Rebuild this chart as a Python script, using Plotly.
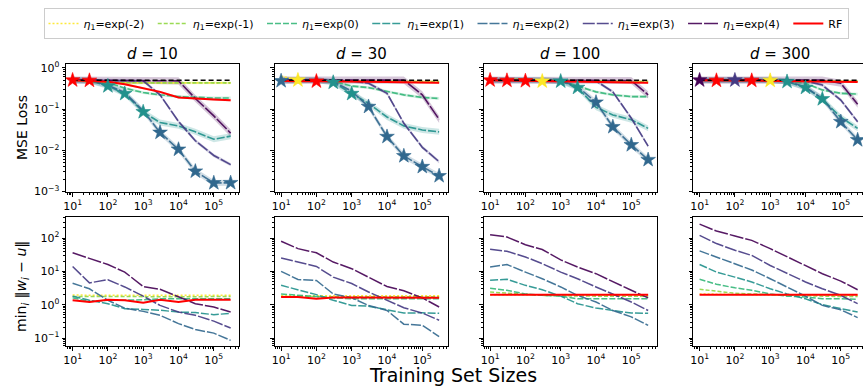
import plotly.graph_objects as go

# ---------------- data ----------------
sizes = [10, 30, 100, 300, 1000, 3000, 10000, 30000, 100000, 300000]
dims = [10, 30, 100, 300]
series_names = ["<i>η</i><sub>1</sub>=exp(-2)", "<i>η</i><sub>1</sub>=exp(-1)",
                "<i>η</i><sub>1</sub>=exp(0)", "<i>η</i><sub>1</sub>=exp(1)",
                "<i>η</i><sub>1</sub>=exp(2)", "<i>η</i><sub>1</sub>=exp(3)",
                "<i>η</i><sub>1</sub>=exp(4)", "RF"]

# MSE loss (top row), order: exp(-2) .. exp(4), RF
mse_d10 = [
    [0.52, 0.45, 0.43, 0.43, 0.43, 0.43, 0.43, 0.43, 0.43, 0.43],
    [0.50, 0.45, 0.44, 0.43, 0.43, 0.43, 0.43, 0.43, 0.43, 0.43],
    [0.50, 0.49, 0.44, 0.32, 0.25, 0.22, 0.20, 0.19, 0.185, 0.185],
    [0.50, 0.49, 0.36, 0.235, 0.085, 0.047, 0.039, 0.028, 0.0185, 0.022],
    [0.50, 0.49, 0.38, 0.25, 0.09, 0.027, 0.0105, 0.0031, 0.00162, 0.00163],
    [0.50, 0.50, 0.50, 0.50, 0.48, 0.22, 0.05, 0.017, 0.0075, 0.0045],
    [0.50, 0.50, 0.50, 0.50, 0.50, 0.50, 0.48, 0.18, 0.068, 0.026],
    [0.50, 0.49, 0.46, 0.40, 0.32, 0.26, 0.19, 0.178, 0.17, 0.162],
]
mse_d30 = [
    [0.62, 0.50, 0.48, 0.47, 0.47, 0.47, 0.47, 0.46, 0.46, 0.46],
    [0.52, 0.49, 0.48, 0.47, 0.47, 0.47, 0.47, 0.46, 0.46, 0.46],
    [0.50, 0.50, 0.50, 0.47, 0.36, 0.33, 0.27, 0.22, 0.19, 0.18],
    [0.50, 0.50, 0.50, 0.44, 0.235, 0.137, 0.064, 0.039, 0.031, 0.028],
    [0.48, 0.50, 0.50, 0.46, 0.27, 0.114, 0.0214, 0.0073, 0.004, 0.0024],
    [0.50, 0.50, 0.50, 0.50, 0.48, 0.42, 0.24, 0.045, 0.0118, 0.0053],
    [0.50, 0.50, 0.50, 0.50, 0.50, 0.50, 0.50, 0.50, 0.22, 0.056],
    [0.48, 0.47, 0.47, 0.47, 0.46, 0.46, 0.45, 0.44, 0.43, 0.43],
]
mse_d100 = [
    [0.50, 0.52, 0.52, 0.47, 0.49, 0.48, 0.47, 0.46, 0.46, 0.46],
    [0.50, 0.52, 0.53, 0.50, 0.49, 0.48, 0.47, 0.46, 0.46, 0.46],
    [0.50, 0.50, 0.50, 0.50, 0.48, 0.36, 0.26, 0.22, 0.20, 0.20],
    [0.50, 0.50, 0.50, 0.50, 0.47, 0.33, 0.11, 0.072, 0.055, 0.034],
    [0.50, 0.50, 0.50, 0.50, 0.48, 0.35, 0.145, 0.037, 0.0135, 0.0059],
    [0.50, 0.50, 0.50, 0.50, 0.50, 0.50, 0.48, 0.26, 0.06, 0.0126],
    [0.50, 0.50, 0.50, 0.50, 0.50, 0.50, 0.50, 0.50, 0.49, 0.22],
    [0.50, 0.49, 0.48, 0.48, 0.47, 0.46, 0.45, 0.44, 0.43, 0.43],
]
mse_d300 = [
    [0.50, 0.50, 0.50, 0.50, 0.49, 0.49, 0.48, 0.47, 0.47, 0.47],
    [0.50, 0.50, 0.51, 0.51, 0.50, 0.49, 0.48, 0.47, 0.47, 0.47],
    [0.50, 0.50, 0.50, 0.50, 0.50, 0.48, 0.42, 0.29, 0.24, 0.23],
    [0.50, 0.50, 0.50, 0.50, 0.50, 0.46, 0.33, 0.175, 0.063, 0.034],
    [0.50, 0.50, 0.50, 0.50, 0.50, 0.47, 0.34, 0.18, 0.049, 0.0178],
    [0.50, 0.50, 0.50, 0.50, 0.50, 0.50, 0.48, 0.38, 0.165, 0.049],
    [0.50, 0.50, 0.50, 0.50, 0.50, 0.50, 0.50, 0.50, 0.42, 0.13],
    [0.50, 0.49, 0.49, 0.49, 0.48, 0.47, 0.46, 0.45, 0.45, 0.45],
]
baseline_mse = [0.50, 0.50, 0.50, 0.50, 0.50, 0.50, 0.50, 0.50, 0.50, 0.50]

# best model index at each size (star markers)
best_d10 = [7, 7, 3, 3, 3, 4, 4, 4, 4, 4]
best_d30 = [4, 0, 7, 3, 3, 4, 4, 4, 4, 4]
best_d100 = [7, 7, 7, 0, 3, 3, 4, 4, 4, 4]
best_d300 = [6, 7, 5, 7, 0, 3, 3, 3, 4, 4]

# min_i ||w_i - u|| (bottom row)
dist_d10 = [
    [1.95, 1.90, 1.90, 1.92, 1.90, 1.90, 1.92, 1.90, 1.90, 1.90],
    [1.75, 1.72, 1.75, 1.75, 1.72, 1.75, 1.75, 1.72, 1.75, 1.75],
    [1.60, 1.25, 1.35, 1.35, 1.40, 1.50, 1.50, 1.50, 1.50, 1.50],
    [1.80, 1.35, 1.07, 0.76, 0.72, 0.68, 0.60, 0.58, 0.50, 0.55],
    [4.4, 3.0, 1.35, 0.79, 0.63, 0.48, 0.27, 0.18, 0.14, 0.085],
    [14, 4.5, 5.6, 3.4, 1.8, 0.95, 0.60, 0.48, 0.32, 0.20],
    [36, 24, 16, 9.5, 3.5, 2.9, 1.7, 1.07, 0.85, 0.60],
    [1.35, 1.20, 1.40, 1.35, 1.15, 1.40, 1.20, 1.40, 1.40, 1.40],
]
dist_d30 = [
    [1.85, 1.85, 1.85, 1.87, 1.85, 1.85, 1.87, 1.85, 1.85, 1.85],
    [1.75, 1.75, 1.72, 1.75, 1.75, 1.72, 1.75, 1.75, 1.72, 1.72],
    [2.1, 1.9, 1.7, 1.6, 1.5, 1.5, 1.5, 1.5, 1.5, 1.5],
    [3.8, 2.8, 2.0, 1.35, 0.95, 0.90, 0.70, 0.56, 0.57, 0.55],
    [10, 5.7, 5.3, 2.1, 1.6, 0.95, 0.67, 0.26, 0.24, 0.11],
    [25, 19, 14, 6.7, 4.3, 2.4, 1.35, 0.81, 0.56, 0.34],
    [80, 48, 36, 19, 12, 6.7, 3.5, 2.6, 1.6, 0.85],
    [1.70, 1.70, 1.50, 1.65, 1.65, 1.65, 1.65, 1.65, 1.60, 1.60],
]
dist_d100 = [
    [2.0, 2.0, 2.0, 1.95, 1.95, 1.9, 1.9, 1.9, 1.9, 1.9],
    [2.4, 2.2, 2.0, 1.9, 1.85, 1.8, 1.8, 1.8, 1.8, 1.8],
    [3.1, 2.7, 2.1, 1.9, 1.8, 1.5, 1.5, 1.5, 1.5, 1.5],
    [5.4, 5.8, 3.8, 2.8, 1.8, 1.07, 0.79, 0.67, 0.56, 0.55],
    [13.5, 16, 9.5, 6.0, 3.4, 1.9, 1.2, 0.67, 0.43, 0.24],
    [46, 40, 27, 17, 9.5, 6.0, 3.4, 2.1, 1.2, 0.67],
    [126, 107, 63, 45, 22, 13.5, 8.5, 4.8, 2.7, 1.6],
    [2.0, 2.0, 2.0, 2.0, 2.0, 2.0, 2.0, 2.0, 2.0, 2.0],
]
dist_d300 = [
    [2.1, 2.05, 2.0, 2.0, 1.95, 1.95, 1.9, 1.9, 1.9, 1.9],
    [2.9, 2.5, 2.2, 2.1, 2.0, 1.9, 1.85, 1.8, 1.75, 1.75],
    [5.8, 4.1, 3.2, 2.7, 2.1, 1.8, 1.7, 1.5, 1.5, 1.45],
    [16, 9.5, 6.7, 4.8, 3.0, 2.1, 1.5, 1.0, 0.76, 0.60],
    [41, 27, 17, 11, 6.0, 3.4, 1.8, 0.95, 0.70, 0.41],
    [120, 68, 43, 30, 15, 8.5, 4.8, 3.0, 1.9, 1.07],
    [260, 162, 115, 85, 48, 27, 15, 8.5, 5.1, 2.8],
    [2.0, 2.0, 2.0, 2.0, 2.0, 2.0, 2.0, 2.0, 2.0, 2.0],
]

# relative width of the shaded uncertainty band per series (top row)
band_frac = [0.08, 0.04, 0.08, 0.18, 0.18, 0.10, 0.22, 0.06]

x_tickvals = [10, 100, 1000, 10000, 100000]
x_ticktext = ["10<sup>1</sup>", "10<sup>2</sup>", "10<sup>3</sup>", "10<sup>4</sup>", "10<sup>5</sup>"]
ytop_tickvals = [0.001, 0.01, 0.1, 1]
ytop_ticktext = ["10<sup>−3</sup>", "10<sup>−2</sup>", "10<sup>−1</sup>", "10<sup>0</sup>"]
ybot_tickvals = [0.1, 1, 10, 100]
ybot_ticktext = ["10<sup>−1</sup>", "10<sup>0</sup>", "10<sup>1</sup>", "10<sup>2</sup>"]

mse_all = [mse_d10, mse_d30, mse_d100, mse_d300]
best_all = [best_d10, best_d30, best_d100, best_d300]
dist_all = [dist_d10, dist_d30, dist_d100, dist_d300]

# ---------------- style ----------------
colors = ["#fde725", "#90d743", "#35b779", "#21918c", "#31688e", "#443983", "#440154", "#ff0000"]
dashes = ["2px,2px", "4px,2px", "6px,2px", "8px,2px", "10px,2px", "12px,2px", "14px,2px", "solid"]
W, H = 863, 386
FONT = "DejaVu Sans"
PAD = "\u00a0"


def rgba(hexc, a):
    h = hexc.lstrip("#")
    return "rgba(%d,%d,%d,%.2f)" % (int(h[0:2], 16), int(h[2:4], 16), int(h[4:6], 16), a)


minor_vals = [m * 10 ** e for e in range(-4, 7) for m in range(2, 10)]

panel_left = [66, 274.5, 483.5, 693]
panel_w = 173.3
dec_px = 35.3
x_lo = 0.813

top_y = (64, 192)
bot_y = (217, 346)

fig = go.Figure()
layout = {}

for row in range(2):
    for k in range(4):
        idx = row * 4 + k + 1
        xa = "xaxis" if idx == 1 else "xaxis%d" % idx
        ya = "yaxis" if idx == 1 else "yaxis%d" % idx
        xref = "x" if idx == 1 else "x%d" % idx
        yref = "y" if idx == 1 else "y%d" % idx
        left = panel_left[k]
        right = min(left + panel_w, W)
        x_hi = x_lo + (right - left) / dec_px
        ys = top_y if row == 0 else bot_y
        layout[xa] = dict(
            type="log", range=[x_lo, x_hi], domain=[left / W, right / W], anchor=yref,
            showline=True, linecolor="black", linewidth=1, mirror=True,
            ticks="outside", ticklen=3.5, tickwidth=0.8, tickcolor="black",
            tickvals=x_tickvals, ticktext=x_ticktext, showgrid=False, zeroline=False,
            tickfont=dict(family=FONT, size=11, color="black"), automargin=False,
            minor=dict(tickvals=minor_vals, ticks="outside", ticklen=2, tickwidth=0.6,
                       tickcolor="black", showgrid=False),
        )
        layout[ya] = dict(
            type="log",
            range=[-3.01, 0.09] if row == 0 else [-1.24, 2.63],
            domain=[(H - ys[1]) / H, (H - ys[0]) / H], anchor=xref,
            showline=True, linecolor="black", linewidth=1, mirror=(k != 3),
            ticks="outside", ticklen=3.5, tickwidth=0.8, tickcolor="black",
            tickvals=ytop_tickvals if row == 0 else ybot_tickvals,
            ticktext=ytop_ticktext if row == 0 else ybot_ticktext,
            showticklabels=(k == 0), showgrid=False, zeroline=False,
            tickfont=dict(family=FONT, size=11, color="black"), automargin=False,
            minor=dict(tickvals=minor_vals, ticks="outside", ticklen=2, tickwidth=0.6,
                       tickcolor="black", showgrid=False),
        )

        if row == 0:
            data = mse_all[k]
            for s in range(8):
                f = band_frac[s]
                up = [v * (1 + f) for v in data[s]]
                lo = [v / (1 + f) for v in data[s]]
                fig.add_trace(go.Scatter(
                    x=sizes + sizes[::-1], y=up + lo[::-1], fill="toself",
                    fillcolor=rgba(colors[s], 0.22), line=dict(width=0),
                    hoverinfo="skip", showlegend=False, xaxis=xref, yaxis=yref))
            for s in range(8):
                fig.add_trace(go.Scatter(
                    x=sizes, y=data[s], mode="lines",
                    name=series_names[s] + (PAD if s < 7 else ""),
                    line=dict(color=colors[s], width=2 if s == 7 else 1.6, dash=dashes[s]),
                    opacity=1 if s == 7 else 0.9,
                    showlegend=(k == 0), legendgroup=str(s), xaxis=xref, yaxis=yref))
            fig.add_trace(go.Scatter(
                x=sizes, y=baseline_mse, mode="lines",
                line=dict(color="black", width=1.5, dash="5px,3px"),
                showlegend=False, xaxis=xref, yaxis=yref))
            best = best_all[k]
            fig.add_trace(go.Scatter(
                x=sizes, y=[data[b][i] for i, b in enumerate(best)], mode="markers",
                marker=dict(symbol="star", size=11, color=[colors[b] for b in best],
                            line=dict(width=0.6, color=[colors[b] for b in best])),
                showlegend=False, xaxis=xref, yaxis=yref))
        else:
            data = dist_all[k]
            for s in range(8):
                fig.add_trace(go.Scatter(
                    x=sizes, y=data[s], mode="lines", name=series_names[s],
                    line=dict(color=colors[s], width=2 if s == 7 else 1.5, dash=dashes[s]),
                    opacity=1 if s == 7 else 0.9,
                    showlegend=False, legendgroup=str(s), xaxis=xref, yaxis=yref))

annotations = []
for k, d in enumerate(dims):
    cx = (panel_left[k] + panel_w / 2) / W
    annotations.append(dict(text="<i>d</i> = %d" % d, x=cx, y=(H - 54) / H, xref="paper", yref="paper",
                            showarrow=False, font=dict(family=FONT, size=15, color="black"),
                            xanchor="center", yanchor="middle"))
annotations.append(dict(text="MSE Loss", x=22 / W, y=(H - 128) / H, xref="paper", yref="paper",
                        showarrow=False, textangle=-90, font=dict(family=FONT, size=14, color="black"),
                        xanchor="center", yanchor="middle"))
annotations.append(dict(text="min<sub><i>i</i></sub> ‖<i>w<sub>i</sub></i> − <i>u</i>‖", x=22 / W, y=(H - 287) / H,
                        xref="paper", yref="paper", showarrow=False, textangle=-90,
                        font=dict(family=FONT, size=14, color="black"), xanchor="center", yanchor="middle"))
annotations.append(dict(text="Training Set Sizes", x=453 / W, y=(H - 375) / H, xref="paper", yref="paper",
                        showarrow=False, font=dict(family=FONT, size=19, color="black"),
                        xanchor="center", yanchor="middle"))

fig.update_layout(
    width=W, height=H, margin=dict(l=0, r=0, t=0, b=0, autoexpand=False),
    paper_bgcolor="white", plot_bgcolor="white",
    font=dict(family=FONT, size=11, color="black"),
    annotations=annotations,
    legend=dict(orientation="h", x=446 / W, xanchor="center", y=(H - 8) / H, yanchor="top",
                bordercolor="#cccccc", borderwidth=1, bgcolor="white",
                font=dict(family=FONT, size=11), itemwidth=30, tracegroupgap=0),
    **layout,
)

fig.write_html("out.html", config={"displayModeBar": False},
               post_script="document.body.style.margin='0px';document.body.style.overflow='hidden';")
